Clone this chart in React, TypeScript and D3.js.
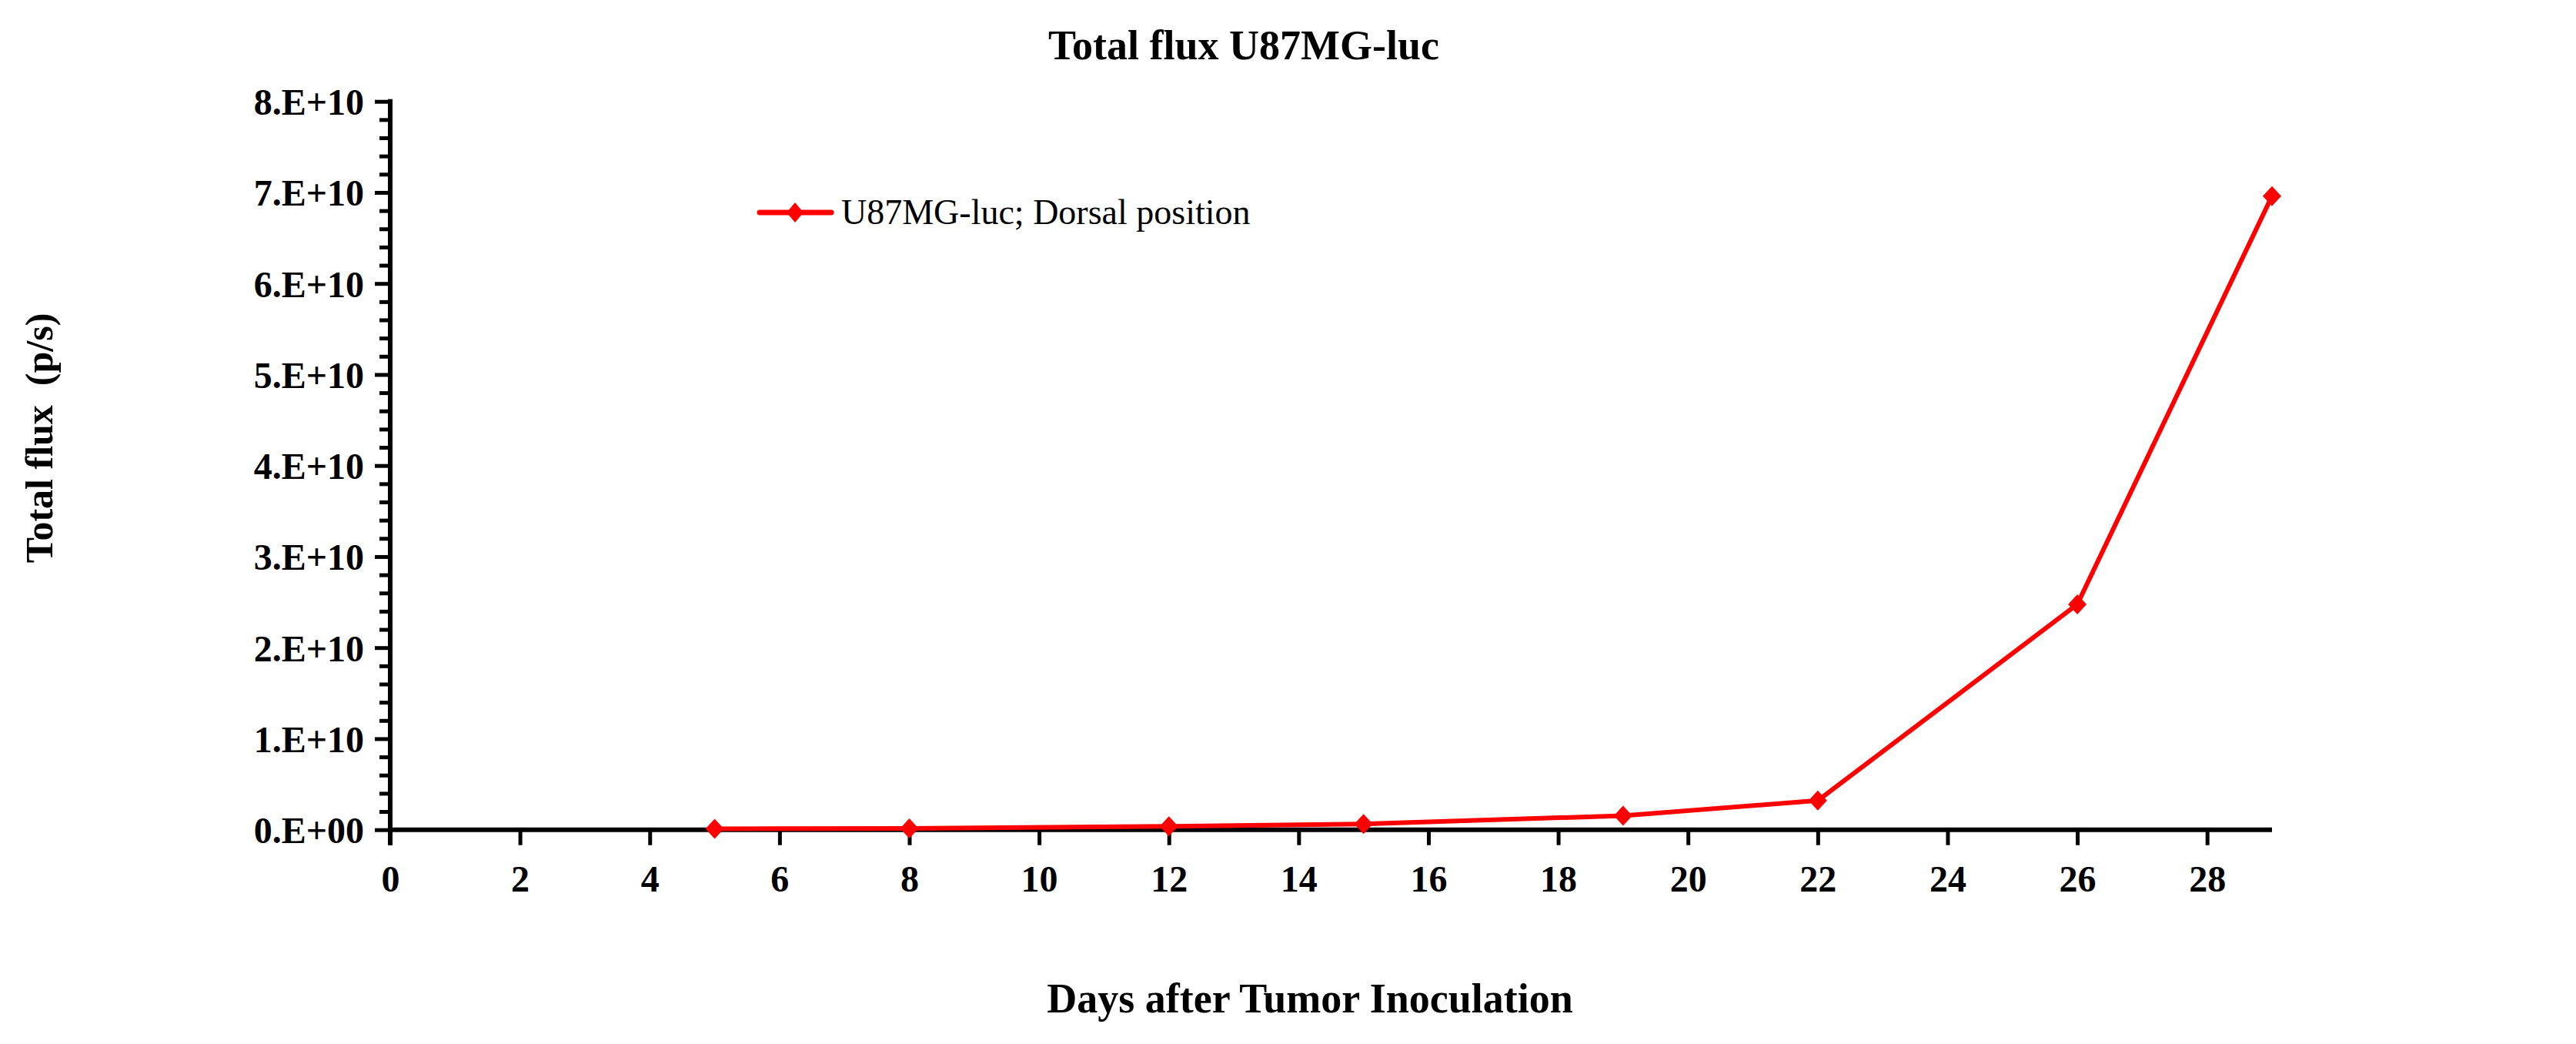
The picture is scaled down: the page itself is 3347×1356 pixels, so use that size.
import React, { useEffect, useRef } from 'react'
import * as d3 from 'd3'

// Days after inoculation and total flux (p/s)
const days = [5, 8, 12, 15, 19, 22, 26, 29]
const flux = [1.0e8, 1.5e8, 3.8e8, 6.4e8, 1.54e9, 3.2e9, 2.476e10, 6.96e10]

const xTicks = [0, 2, 4, 6, 8, 10, 12, 14, 16, 18, 20, 22, 24, 26, 28]
const yMajor = [0, 1e10, 2e10, 3e10, 4e10, 5e10, 6e10, 7e10, 8e10]

const seriesName = 'U87MG-luc; Dorsal position'
const chartTitle = 'Total flux U87MG-luc'
const xTitle = 'Days after Tumor Inoculation'
const yTitle = 'Total flux  (p/s)'

const W = 3347
const H = 1356
const FONT = '"Liberation Serif", "Times New Roman", Times, serif'
const RED = '#ff0000'

const diamond = (w: number, h: number) => `M0,${-h}L${w},0L0,${h}L${-w},0Z`

export default function App() {
  const svgRef = useRef<SVGSVGElement>(null)

  useEffect(() => {
    const svg = d3.select(svgRef.current)
    svg.selectAll('*').remove()

    const left = 507
    const right = 2952
    const top = 131.7
    const bottom = 1077.7

    const x = d3.scaleLinear().domain([0, 29]).range([left, right])
    const y = d3.scaleLinear().domain([0, 8e10]).range([bottom, top])

    // title
    svg.append('text')
      .attr('x', 1616)
      .attr('y', 77)
      .attr('text-anchor', 'middle')
      .style('font-family', FONT)
      .style('font-weight', '700')
      .style('font-size', '54px')
      .text(chartTitle)

    // y axis minor ticks
    const minor = d3.range(0, 8e10 + 1, 2e9).filter(v => v % 1e10 !== 0)
    svg.append('g')
      .attr('transform', `translate(${left},0)`)
      .call(d3.axisLeft(y).tickValues(minor).tickSize(14).tickSizeOuter(0).tickFormat(() => ''))
      .call(g => g.select('.domain').remove())
      .call(g => g.selectAll('line').attr('stroke', '#000').attr('stroke-width', 5))

    // y axis major
    const fmt = (v: number) => (v === 0 ? '0.E+00' : `${Math.round(v / 1e10)}.E+10`)
    svg.append('g')
      .attr('transform', `translate(${left},0)`)
      .call(d3.axisLeft(y).tickValues(yMajor).tickSize(20).tickPadding(14).tickSizeOuter(0).tickFormat(d => fmt(+d)))
      .call(g => g.select('.domain').attr('stroke', '#000').attr('stroke-width', 6)
        .attr('d', `M0,${top - 3}V${bottom + 20}`))
      .call(g => g.selectAll('line').attr('stroke', '#000').attr('stroke-width', 5))
      .call(g => g.selectAll('text')
        .attr('dy', 17)
        .attr('fill', '#000')
        .style('font-family', FONT)
        .style('font-weight', '700')
        .style('font-size', '48px'))

    // x axis
    svg.append('g')
      .attr('transform', `translate(0,${bottom})`)
      .call(d3.axisBottom(x).tickValues(xTicks).tickSize(20).tickSizeOuter(0).tickFormat(d3.format('d')))
      .call(g => g.select('.domain').attr('stroke', '#000').attr('stroke-width', 6)
        .attr('d', `M${left},0H${right}`))
      .call(g => g.selectAll('line').attr('stroke', '#000').attr('stroke-width', 5))
      .call(g => g.selectAll('text')
        .attr('y', 80)
        .attr('dy', 0)
        .attr('fill', '#000')
        .style('font-family', FONT)
        .style('font-weight', '700')
        .style('font-size', '48px'))

    // series line
    const pts = days.map((d, i) => [d, flux[i]] as [number, number])
    const line = d3.line<[number, number]>().x(d => x(d[0])).y(d => y(d[1]))
    svg.append('path')
      .datum(pts)
      .attr('d', line)
      .attr('fill', 'none')
      .attr('stroke', RED)
      .attr('stroke-width', 6)
      .attr('stroke-linejoin', 'round')

    svg.append('g')
      .selectAll('path')
      .data(pts)
      .join('path')
      .attr('transform', d => `translate(${x(d[0])},${y(d[1])})`)
      .attr('d', diamond(12, 13))
      .attr('fill', RED)

    // legend
    const lg = svg.append('g').attr('transform', 'translate(985,276)')
    lg.append('line')
      .attr('x1', 2).attr('x2', 95).attr('y1', 0).attr('y2', 0)
      .attr('stroke', RED).attr('stroke-width', 7).attr('stroke-linecap', 'round')
    lg.append('path')
      .attr('transform', 'translate(48,0)')
      .attr('d', diamond(11, 13))
      .attr('fill', RED)
    lg.append('text')
      .attr('x', 108)
      .attr('y', 15)
      .style('font-family', FONT)
      .style('font-size', '46px')
      .text(seriesName)

    // axis titles
    svg.append('text')
      .attr('x', 1702)
      .attr('y', 1315)
      .attr('text-anchor', 'middle')
      .style('font-family', FONT)
      .style('font-weight', '700')
      .style('font-size', '54px')
      .text(xTitle)

    svg.append('text')
      .attr('transform', 'translate(68,569) rotate(-90)')
      .attr('text-anchor', 'middle')
      .style('font-family', FONT)
      .style('font-weight', '700')
      .style('font-size', '50px')
      .style('white-space', 'pre')
      .text(yTitle)
  }, [])

  return (
    <svg
      ref={svgRef}
      width={W}
      height={H}
      style={{ position: 'absolute', left: 0, top: 0, background: '#fff' }}
    />
  )
}
